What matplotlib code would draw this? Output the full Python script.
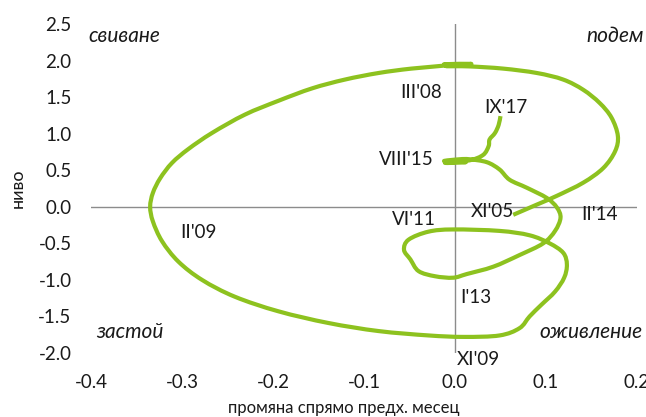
import matplotlib.pyplot as plt
from matplotlib.path import Path
from matplotlib.patches import PathPatch

plt.rcParams['font.family'] = ['Lato', 'DejaVu Sans']
plt.rcParams['axes.unicode_minus'] = False

# промяна спрямо предходния месец (x) и ниво (y), XI'05 - IX'17
promyana = [0.064, 0.090, 0.112, 0.141, 0.163, 0.176, 0.179, 0.172, 0.159, 0.141,
            0.119, 0.090, 0.053, 0.016, -0.010, 0.018, -0.012, -0.004,
            -0.048, -0.084, -0.121, -0.157, -0.194, -0.231, -0.267, -0.293, -0.311,
            -0.324, -0.332, -0.335, -0.332, -0.322, -0.304, -0.278, -0.242, -0.194,
            -0.139, -0.084, -0.029, 0.010, 0.049, 0.071, 0.082, 0.095, 0.110, 0.120,
            0.123, 0.119, 0.104, 0.082, 0.049, -0.002, -0.029, -0.051, -0.056, -0.049,
            -0.040, -0.022, -0.002, 0.013, 0.042, 0.071, 0.097, 0.110, 0.116, 0.112,
            0.101, 0.079, 0.060, 0.049, 0.035, 0.016, 0.005, -0.012, 0.012, -0.011,
            0.016, 0.031, 0.037, 0.038, 0.044, 0.048, 0.050]
nivo = [-0.11, 0.03, 0.15, 0.33, 0.53, 0.76, 0.97, 1.22, 1.42, 1.60,
        1.74, 1.83, 1.89, 1.92, 1.925, 1.955, 1.95, 1.94,
        1.89, 1.83, 1.74, 1.62, 1.45, 1.26, 1.01, 0.79, 0.60,
        0.39, 0.19, 0.00, -0.20, -0.47, -0.75, -1.00, -1.23, -1.43,
        -1.59, -1.70, -1.76, -1.78, -1.76, -1.66, -1.50, -1.34, -1.16, -0.97,
        -0.79, -0.63, -0.50, -0.39, -0.33, -0.31, -0.34, -0.45, -0.59, -0.72,
        -0.88, -0.95, -0.97, -0.92, -0.82, -0.66, -0.50, -0.33, -0.15, -0.01,
        0.12, 0.26, 0.37, 0.51, 0.61, 0.65, 0.65, 0.625, 0.61, 0.60,
        0.635, 0.71, 0.83, 0.92, 1.01, 1.12, 1.24]

etiketi = ["III'08", "IX'17", "VIII'15", "XI'05", "VI'11", "II'14", "II'09", "I'13", "XI'09"]
etiket_x = [-0.037, 0.056, -0.053, 0.041, -0.045, 0.159, -0.282, 0.023, 0.026]
etiket_y = [1.56, 1.36, 0.64, -0.07, -0.17, -0.11, -0.35, -1.24, -2.09]

fazi = ["свиване", "подем", "застой", "оживление"]
fazi_x = [-0.363, 0.144, -0.357, 0.093]
fazi_y = [2.34, 2.34, -1.71, -1.71]
fazi_ha = ['center', 'left', 'center', 'left']

fig = plt.figure(figsize=(6.46, 4.17), dpi=100)
ax = fig.add_axes([0.1409, 0.1535, 0.8451, 0.7889])

ax.axhline(0, color='#8c8c8c', lw=1, zorder=1)
ax.axvline(0, color='#8c8c8c', lw=1, zorder=1)

# smoothed line like Excel's (catmull-rom segments as bezier curves)
pts = list(zip(promyana, nivo))
n = len(pts)
verts = [pts[0]]
codes = [Path.MOVETO]
for i in range(n - 1):
    p0 = pts[max(i - 1, 0)]
    p1 = pts[i]
    p2 = pts[i + 1]
    p3 = pts[min(i + 2, n - 1)]
    c1 = (p1[0] + (p2[0] - p0[0]) / 6, p1[1] + (p2[1] - p0[1]) / 6)
    c2 = (p2[0] - (p3[0] - p1[0]) / 6, p2[1] - (p3[1] - p1[1]) / 6)
    verts += [c1, c2, p2]
    codes += [Path.CURVE4] * 3
ax.add_patch(PathPatch(Path(verts, codes), fill=False, edgecolor='#8dc21f', lw=3,
                       capstyle='butt', joinstyle='round', zorder=2))

for s, x, y in zip(etiketi, etiket_x, etiket_y):
    ax.text(x, y, s, ha='center', va='center', fontsize=13.5, color='#1a1a1a', zorder=3)

for s, x, y, ha in zip(fazi, fazi_x, fazi_y, fazi_ha):
    ax.text(x, y, s, style='italic', fontsize=15, ha=ha, va='center', color='#1a1a1a')

ax.set_xlim(-0.4, 0.2)
ax.set_ylim(-2.0, 2.5)
ax.set_xticks([-0.4, -0.3, -0.2, -0.1, 0.0, 0.1, 0.2])
ax.set_yticks([-2.0, -1.5, -1.0, -0.5, 0.0, 0.5, 1.0, 1.5, 2.0, 2.5])
ax.xaxis.set_major_formatter(plt.FormatStrFormatter('%.1f'))
ax.yaxis.set_major_formatter(plt.FormatStrFormatter('%.1f'))
ax.tick_params(axis='x', length=0, pad=15, labelsize=13.5, labelcolor='#1a1a1a')
ax.tick_params(axis='y', length=0, pad=14, labelsize=13.5, labelcolor='#1a1a1a')
for sp in ax.spines.values():
    sp.set_visible(False)

ax.set_xlabel("промяна спрямо предх. месец", fontsize=12, color='#1a1a1a')
ax.xaxis.set_label_coords(0.463, -0.143)
ax.set_ylabel("ниво", fontsize=13, color='#1a1a1a')
ax.yaxis.set_label_coords(-0.119, 0.5)

fig.savefig("out.png", dpi=100)
